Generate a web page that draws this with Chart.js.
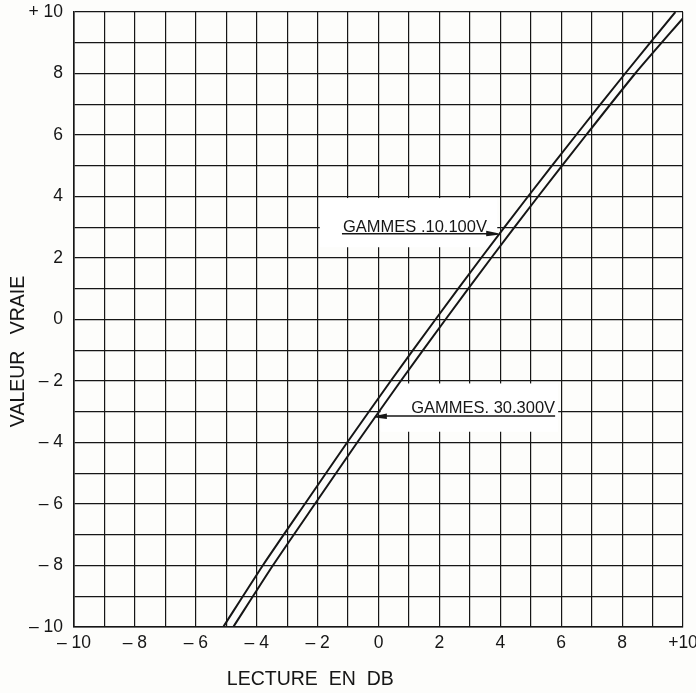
<!DOCTYPE html>
<html>
<head>
<meta charset="utf-8">
<script src="https://cdn.jsdelivr.net/npm/chart.js@4/dist/chart.umd.min.js"></script>
<style>
  html, body { margin: 0; padding: 0; background: #fdfdfb; }
  #wrap { width: 696px; height: 693px; }
</style>
</head>
<body>
<div id="wrap"><canvas id="abaque"></canvas></div>
<script>
const valeurs10 = [-10, -8, -6, -4, -2, 0, 2, 4, 6, 8, 10];
const lecture10 = [-5.1, -3.8, -2.42, -1.03, 0.4, 1.87, 3.37, 4.91, 6.49, 8.1, 9.75];

const valeurs30 = [-10, -8, -6, -4, -2, 0, 2, 4, 6, 8, 9.8];
const lecture30 = [-4.77, -3.47, -2.09, -0.7, 0.73, 2.2, 3.7, 5.24, 6.82, 8.43, 10];

const ticksX = [-10, -8, -6, -4, -2, 0, 2, 4, 6, 8, 10];
const ticksY = [-10, -8, -6, -4, -2, 0, 2, 4, 6, 8, 10];

const labelGamme10 = "GAMMES .10.100V";
const labelGamme30 = "GAMMES. 30.300V";
const titreX = "LECTURE  EN  DB";
const titreY = "VALEUR   VRAIE";

const INK = "#161616";
const FONT = "'Liberation Sans', Arial, sans-serif";

function toPoints(xs, ys) {
    return xs.map((x, i) => ({ x: x, y: ys[i] }));
}

function fmtX(v) {
    if (!ticksX.includes(v)) return "";
    if (v < 0) return "\u2013 " + Math.abs(v);
    if (v === 10) return "+10";
    return String(v);
}

function fmtY(v) {
    if (!ticksY.includes(v)) return "";
    if (v < 0) return "\u2013 " + Math.abs(v);
    if (v === 10) return "+ 10";
    return String(v);
}

// boites blanches derriere les etiquettes, puis textes + fleches
const annotations = {
    id: "annotations",
    beforeDatasetsDraw(chart) {
        const { ctx, scales: { x, y } } = chart;
        ctx.save();
        ctx.fillStyle = "#ffffff";
        const box = (x0, x1, y0, y1) => {
            ctx.fillRect(x.getPixelForValue(x0), y.getPixelForValue(y1),
                x.getPixelForValue(x1) - x.getPixelForValue(x0),
                y.getPixelForValue(y0) - y.getPixelForValue(y1));
        };
        box(-1.93, 3.9, 2.35, 3.95);
        box(0.07, 5.9, -3.65, -2.08);
        ctx.restore();
    },
    afterDatasetsDraw(chart) {
        const { ctx, scales: { x, y } } = chart;
        ctx.save();
        ctx.fillStyle = INK;
        ctx.strokeStyle = INK;
        ctx.font = "16.5px " + FONT;
        ctx.textBaseline = "alphabetic";

        // gamme 10 / 100 V
        let yl = y.getPixelForValue(2.82);
        let xa = x.getPixelForValue(-1.2);
        let xb = x.getPixelForValue(3.93);
        ctx.textAlign = "left";
        ctx.fillText(labelGamme10, xa + 1, yl - 1);
        ctx.lineWidth = 1.4;
        ctx.beginPath();
        ctx.moveTo(xa, yl + 1);
        ctx.lineTo(xb - 10, yl + 1);
        ctx.stroke();
        ctx.beginPath();
        ctx.moveTo(xb - 12, yl - 2);
        ctx.lineTo(xb, yl + 0.5);
        ctx.lineTo(xb, yl + 2);
        ctx.lineTo(xb - 12, yl + 3.5);
        ctx.closePath();
        ctx.fill();

        // gamme 30 / 300 V
        yl = y.getPixelForValue(-3.14);
        xa = x.getPixelForValue(-0.12);
        xb = x.getPixelForValue(5.8);
        ctx.textAlign = "right";
        ctx.fillText(labelGamme30, xb, yl - 3);
        ctx.beginPath();
        ctx.moveTo(xa + 10, yl);
        ctx.lineTo(xb, yl);
        ctx.stroke();
        ctx.beginPath();
        ctx.moveTo(xa + 12, yl - 2.5);
        ctx.lineTo(xa, yl);
        ctx.lineTo(xa, yl + 1.5);
        ctx.lineTo(xa + 12, yl + 3);
        ctx.closePath();
        ctx.fill();
        ctx.restore();
    },
    afterDraw(chart) {
        const { ctx, chartArea: a } = chart;
        ctx.save();
        ctx.fillStyle = INK;
        ctx.font = "19.5px " + FONT;
        ctx.textAlign = "center";
        ctx.textBaseline = "middle";
        ctx.fillText(titreX, a.left + (a.right - a.left) * 0.388, 680);
        ctx.translate(19, a.top + (a.bottom - a.top) * 0.552);
        ctx.rotate(-Math.PI / 2);
        ctx.fillText(titreY, 0, 0);
        ctx.restore();
    },
};

const ctx = document.getElementById("abaque");
new Chart(ctx, {
    type: "scatter",
    data: {
        datasets: [
            {
                label: labelGamme10,
                data: toPoints(lecture10, valeurs10),
                showLine: true,
                borderColor: INK,
                borderWidth: 2,
                pointRadius: 0,
                tension: 0.2,
            },
            {
                label: labelGamme30,
                data: toPoints(lecture30, valeurs30),
                showLine: true,
                borderColor: INK,
                borderWidth: 2,
                pointRadius: 0,
                tension: 0.2,
            },
        ],
    },
    options: {
        responsive: true,
        maintainAspectRatio: false,
        animation: false,
        layout: {
            padding: { top: 12, right: 13, left: 0, bottom: 0 },
        },
        plugins: {
            legend: { display: false },
            tooltip: { enabled: false },
        },
        scales: {
            x: {
                type: "linear",
                min: -10,
                max: 10,
                afterFit: (s) => {
                    s.height = 66;
                    s.paddingLeft = 0;
                    s.paddingRight = 0;
                },
                ticks: {
                    stepSize: 1,
                    autoSkip: false,
                    maxRotation: 0,
                    padding: 6,
                    color: INK,
                    font: { family: FONT, size: 17.5 },
                    callback: fmtX,
                },
                grid: { color: INK, lineWidth: 1.2, drawTicks: false },
                border: { color: INK, width: 1.6 },
            },
            y: {
                type: "linear",
                min: -10,
                max: 10,
                afterFit: (s) => {
                    s.width = 74;
                    s.paddingTop = 0;
                    s.paddingBottom = 0;
                },
                ticks: {
                    stepSize: 1,
                    autoSkip: false,
                    padding: 11,
                    color: INK,
                    font: { family: FONT, size: 17.5 },
                    callback: fmtY,
                },
                grid: { color: INK, lineWidth: 1.2, drawTicks: false },
                border: { color: INK, width: 1.6 },
            },
        },
    },
    plugins: [annotations],
});
</script>
</body>
</html>
